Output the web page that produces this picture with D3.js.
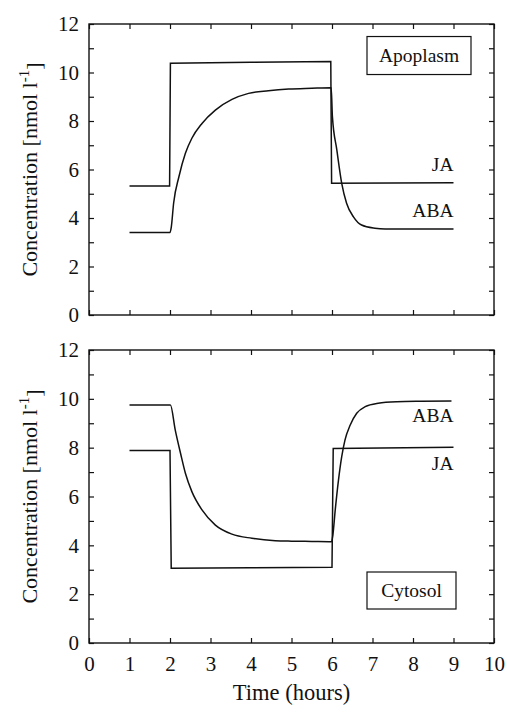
<!DOCTYPE html>
<html>
<head>
<meta charset="utf-8">
<script src="https://cdn.jsdelivr.net/npm/d3@7"></script>
<style>
  html, body { margin: 0; padding: 0; background: #fff; }
  svg { display: block; }
  svg text { font-family: "Liberation Serif", "Times New Roman", "DejaVu Serif", serif !important; fill: #111; }
</style>
</head>
<body>
<svg id="chart" width="507" height="713"></svg>
<script>
// ---- data ----
const xTicks = [0, 1, 2, 3, 4, 5, 6, 7, 8, 9, 10];
const yTicks = [0, 2, 4, 6, 8, 10, 12];
const yMinorTicks = [1, 3, 5, 7, 9, 11];

// Apoplasm panel: [time (h), concentration (nmol/l)]
const apoplasmJA = [[1, 5.32], [1.99, 5.32], [2.01, 10.38], [4, 10.42], [5.97, 10.45], [5.99, 5.43], [9, 5.45]];
const apoplasmABA = [[1, 3.4], [2.0, 3.4], [2.03, 3.6], [2.09, 4.62], [2.22, 5.7], [2.38, 6.67], [2.54, 7.29],
  [2.79, 7.9], [3.12, 8.45], [3.53, 8.89], [3.94, 9.14], [4.43, 9.25], [4.93, 9.32], [5.5, 9.35], [5.98, 9.37],
  [6.01, 8.18], [6.12, 6.8], [6.24, 5.43], [6.36, 4.61], [6.53, 4.05], [6.73, 3.71], [7.06, 3.58], [7.31, 3.55], [9, 3.55]];

// Cytosol panel
const cytosolJA = [[1, 7.88], [2.0, 7.88], [2.03, 3.06], [4, 3.08], [6.0, 3.1], [6.03, 7.97], [9, 8.02]];
const cytosolABA = [[1, 9.75], [2.01, 9.75], [2.13, 8.72], [2.26, 7.77], [2.38, 6.95], [2.54, 6.2], [2.79, 5.45],
  [3.12, 4.83], [3.53, 4.46], [4.02, 4.29], [4.6, 4.19], [5.0, 4.17], [5.5, 4.16], [5.99, 4.15],
  [6.02, 4.4], [6.08, 5.45], [6.16, 6.67], [6.24, 7.63], [6.32, 8.31], [6.45, 8.93], [6.61, 9.41],
  [6.82, 9.68], [7.14, 9.82], [7.6, 9.88], [8.2, 9.9], [8.95, 9.91]];

const FONT = '"Liberation Serif", "Times New Roman", serif';

const panels = [
  { name: "Apoplasm", ja: apoplasmJA, aba: apoplasmABA, top: 24, bottom: 315, showX: false,
    labelJA: 5.95, labelABA: 4.05, boxYc: 10.7, boxW: 104, boxH: 38 },
  { name: "Cytosol", ja: cytosolJA, aba: cytosolABA, top: 350, bottom: 643, showX: true,
    labelABA: 9.05, labelJA: 7.1, boxYc: 2.15, boxW: 89, boxH: 37 }
];

const svg = d3.select("#chart");
const x = d3.scaleLinear().domain([0, 10]).range([89, 494]);

panels.forEach((p) => {
  const y = d3.scaleLinear().domain([0, 12]).range([p.bottom, p.top]);
  const g = svg.append("g");

  // frame
  g.append("rect")
    .attr("x", x(0)).attr("y", y(12))
    .attr("width", x(10) - x(0)).attr("height", y(0) - y(12))
    .attr("fill", "none").attr("stroke", "#111").attr("stroke-width", 1.4);

  // axes with inward ticks
  const left = d3.axisLeft(y).tickValues(yTicks.concat(yMinorTicks)).tickSizeInner(-5).tickSizeOuter(0)
    .tickFormat(d => yTicks.includes(d) ? d : "").tickPadding(10);
  const gl = g.append("g").attr("transform", `translate(${x(0)},0)`).call(left);
  const right = d3.axisRight(y).tickValues(yTicks.concat(yMinorTicks)).tickSizeInner(-5).tickSizeOuter(0).tickFormat("");
  const gr = g.append("g").attr("transform", `translate(${x(10)},0)`).call(right);
  const bottom = d3.axisBottom(x).tickValues(xTicks).tickSizeInner(-5).tickSizeOuter(0)
    .tickFormat(p.showX ? d3.format("d") : () => "").tickPadding(10);
  const gb = g.append("g").attr("transform", `translate(0,${y(0)})`).call(bottom);
  const top = d3.axisTop(x).tickValues(xTicks).tickSizeInner(-5).tickSizeOuter(0).tickFormat("");
  const gt = g.append("g").attr("transform", `translate(0,${y(12)})`).call(top);
  [gl, gr, gb, gt].forEach(a => {
    a.attr("font-family", FONT);
    a.select(".domain").remove();
    a.selectAll("line").attr("stroke", "#111").attr("stroke-width", 1.2);
    a.selectAll("text").attr("font-family", FONT).style("font-size", "21px").attr("fill", "#111");
  });
  gb.selectAll("text").attr("dy", "0.85em");

  // lines
  const lineJA = d3.line().x(d => x(d[0])).y(d => y(d[1]));
  const lineABA = d3.line().x(d => x(d[0])).y(d => y(d[1])).curve(d3.curveMonotoneX);
  g.append("path").datum(p.ja).attr("d", lineJA).attr("fill", "none").attr("stroke", "#111").attr("stroke-width", 1.5);
  g.append("path").datum(p.aba).attr("d", lineABA).attr("fill", "none").attr("stroke", "#111").attr("stroke-width", 1.5);

  // series labels
  g.append("text").attr("x", x(9)).attr("y", y(p.labelJA)).attr("text-anchor", "end")
    .attr("font-family", FONT).style("font-size", "19.5px").text("JA");
  g.append("text").attr("x", x(9)).attr("y", y(p.labelABA)).attr("text-anchor", "end")
    .attr("font-family", FONT).style("font-size", "19.5px").text("ABA");

  // panel name box
  const bx = 367;
  const by = y(p.boxYc) - p.boxH / 2;
  g.append("rect").attr("x", bx).attr("y", by).attr("width", p.boxW).attr("height", p.boxH)
    .attr("fill", "#fff").attr("stroke", "#111").attr("stroke-width", 1.2);
  g.append("text").attr("x", bx + p.boxW / 2).attr("y", by + p.boxH / 2 + 6).attr("text-anchor", "middle")
    .attr("font-family", FONT).style("font-size", "19.5px").text(p.name);

  // y title
  const t = g.append("text")
    .attr("transform", `translate(37,${(p.top + p.bottom) / 2}) rotate(-90)`)
    .attr("text-anchor", "middle").attr("font-family", FONT).style("font-size", "22px");
  t.append("tspan").text("Concentration [nmol l");
  t.append("tspan").attr("dy", "-0.55em").style("font-size", "15px").text("-1");
  t.append("tspan").attr("dy", "0.55em").text("]");
});

svg.append("text").attr("x", x(5)).attr("y", 700).attr("text-anchor", "middle")
  .attr("font-family", FONT).style("font-size", "22.5px").text("Time (hours)");
</script>
</body>
</html>
